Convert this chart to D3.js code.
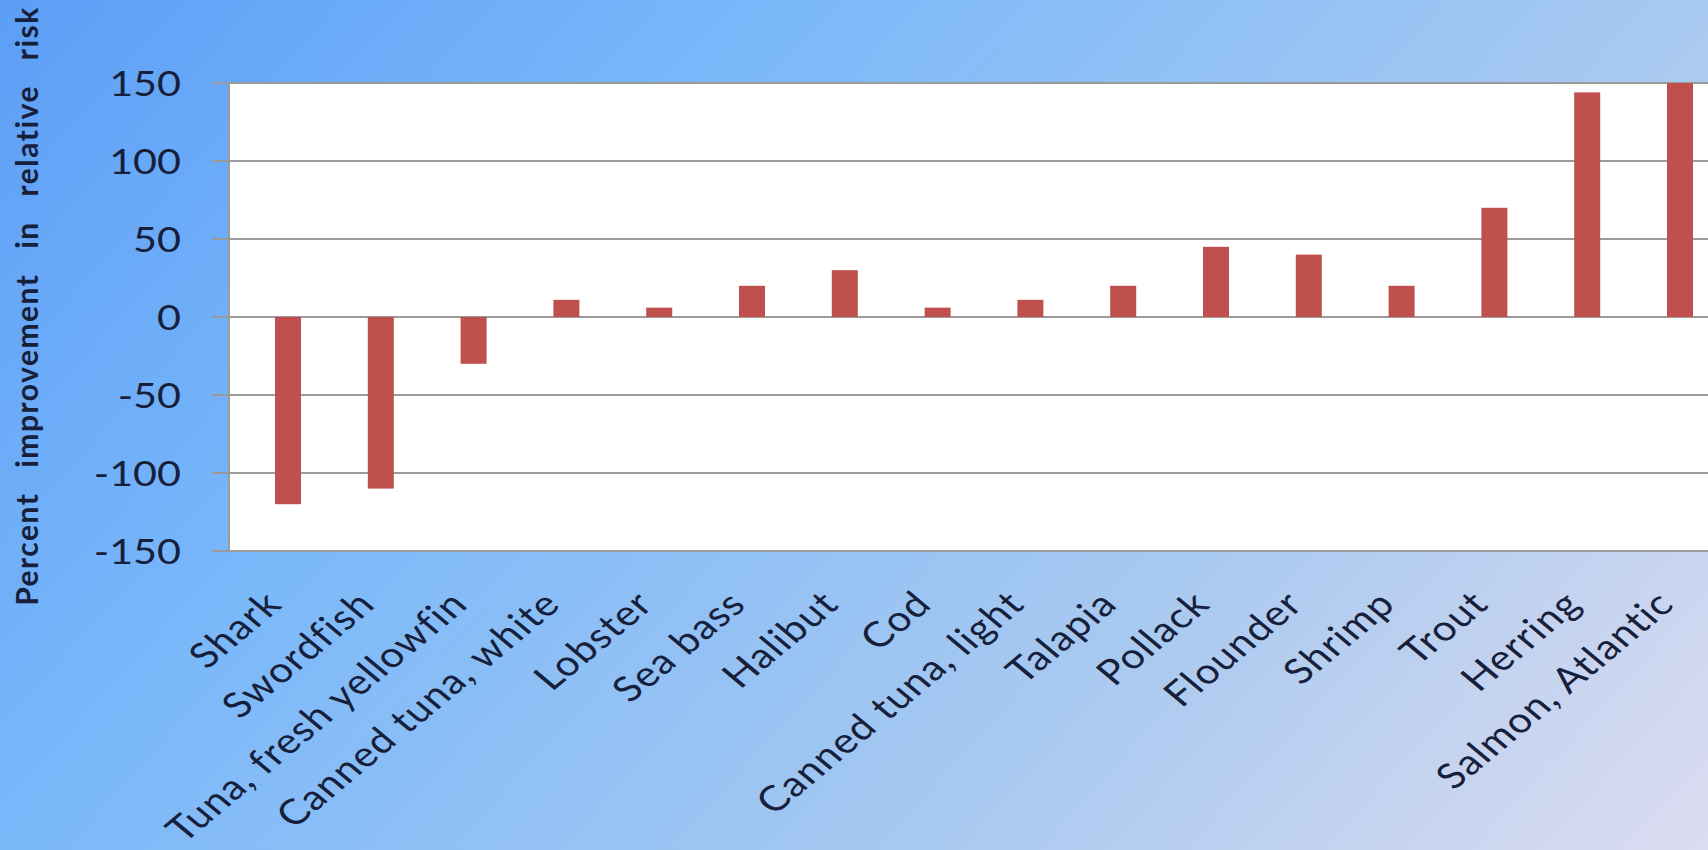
<!DOCTYPE html>
<html><head><meta charset="utf-8">
<script src="https://cdn.jsdelivr.net/npm/d3@7/dist/d3.min.js"></script>
<style>html,body{margin:0;padding:0;overflow:hidden;background:#8ec3f8}</style>
</head><body>
<svg id="chart" width="1708" height="850"></svg>
<script>
const categories = ["Shark","Swordfish","Tuna, fresh yellowfin","Canned tuna, white","Lobster","Sea bass","Halibut","Cod","Canned tuna, light","Talapia","Pollack","Flounder","Shrimp","Trout","Herring","Salmon, Atlantic"];
const values = [-120,-110,-30,11,6,20,30,6,11,20,45,40,20,70,144,150];
const yTicks = [-150,-100,-50,0,50,100,150];
const yTitle = "Percent improvement in relative risk";

const W = 1708, H = 850;
const svg = d3.select("#chart");
const defs = svg.append("defs");
const grad = defs.append("linearGradient").attr("id","bg")
  .attr("gradientUnits","userSpaceOnUse").attr("x1",0).attr("y1",0).attr("x2",1694).attr("y2",1547);
[[0,"#5c9ef6"],[0.25,"#7ab8fa"],[0.55,"#a8c9f0"],[0.8,"#dcdcf0"],[1,"#e6e0f0"]].forEach(([o,c])=>grad.append("stop").attr("offset",o).attr("stop-color",c));
svg.append("rect").attr("width",W).attr("height",H).attr("fill","url(#bg)");

const plotLeft = 229, plotTop = 83, plotBottom = 551;
const y = d3.scaleLinear().domain([-150,150]).range([plotBottom, plotTop]);
const x = d3.scaleBand().domain(categories).range([241.6, 1726.4]).padding(0);
const barW = 26;

// plot area
svg.append("rect").attr("x",plotLeft).attr("y",plotTop).attr("width",W-plotLeft+10).attr("height",plotBottom-plotTop).attr("fill","#ffffff");

// gridlines + ticks
const grid = svg.append("g");
grid.selectAll("line").data(yTicks).join("line")
  .attr("x1",plotLeft-17).attr("x2",W).attr("y1",d=>y(d)).attr("y2",d=>y(d))
  .attr("stroke","#9a9a9a").attr("stroke-width",2.2);
svg.append("line").attr("x1",plotLeft).attr("x2",plotLeft).attr("y1",plotTop).attr("y2",plotBottom)
  .attr("stroke","#9a9a9a").attr("stroke-width",2);

// bars
svg.append("g").selectAll("rect").data(categories).join("rect")
  .attr("x",(d)=>x(d)+x.bandwidth()/2-barW/2)
  .attr("width",barW)
  .attr("y",(d,i)=>y(Math.max(0,values[i])))
  .attr("height",(d,i)=>Math.abs(y(values[i])-y(0)))
  .attr("fill","#c0504d");

// y tick labels
svg.append("g").selectAll("text").data(yTicks).join("text")
  .attr("transform",d=>`translate(181,${y(d)}) scale(1.18,1)`)
  .attr("text-anchor","end").attr("dy","0.36em")
  .attr("font-family","Lato, 'Open Sans', sans-serif").attr("font-size",35)
  .attr("fill","#17203a").text(d=>d);

// x labels
svg.append("g").selectAll("text").data(categories).join("text")
  .attr("transform",d=>`translate(${x(d)+x.bandwidth()/2-4},606) scale(1.2,1) rotate(-45)`)
  .attr("text-anchor","end")
  .attr("font-family","Lato, 'Open Sans', sans-serif").attr("font-size",35)
  .attr("letter-spacing",1.0)
  .attr("fill","#17203a").text(d=>d);

// y title
svg.append("text")
  .attr("transform","translate(38,306) rotate(-90)")
  .attr("text-anchor","middle")
  .attr("font-family","Lato, 'Open Sans', sans-serif").attr("font-weight","bold").attr("font-size",30)
  .attr("letter-spacing",1.5).attr("word-spacing",16)
  .attr("fill","#17203a").text(yTitle);
</script>
</body></html>
